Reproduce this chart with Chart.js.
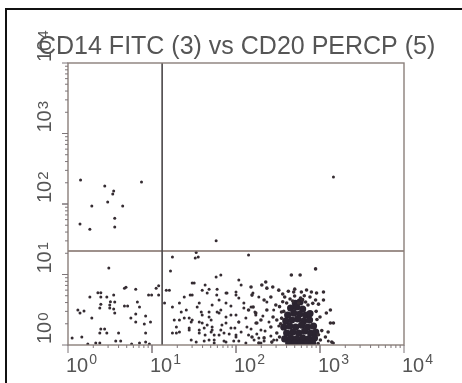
<!DOCTYPE html>
<html>
<head>
<meta charset="utf-8">
<script src="https://cdn.jsdelivr.net/npm/chart.js@4.4.1/dist/chart.umd.min.js"></script>
<style>
html, body { margin: 0; padding: 0; background: #fff; }
#wrap { position: relative; width: 462px; height: 383px; overflow: hidden; }
#box { position: absolute; left: 5px; top: 8px; width: 500px; height: 420px; border-top: 2px solid #111; border-left: 2px solid #111; }
canvas { position: absolute; left: 0; top: 0; }
</style>
</head>
<body>
<div id="wrap"><div id="box"></div><canvas id="plot" width="462" height="383"></canvas></div>
<script>
const chartTitle = "CD14 FITC (3) vs CD20 PERCP (5)"
const decadeValues = [1, 10, 100, 1000, 10000]
const decadeExponents = ["0", "1", "2", "3", "4"]

// quadrant gates
const gateX = 13.2
const gateY = 21.5

// [FITC, PERCP] events
const upperDots = [[1.41,219],[2.74,180],[3.5,153],[3.41,139],[7.5,205],[1.92,94],[2.97,107],[4.48,94],
    [3.6,63],[1.39,52],[1.82,44],[3.6,47],[58,30],[1445,241]]

const lowerLeft = [[4.9,6.6],[4.7,6.4],[6.4,6.2],[12,6.9],[1.82,4.8],[2.46,5.5],[2.46,4.8],[2.9,4.8],[3.5,5.1],
    [3.2,4.1],[2.46,3.8],[2.39,3.35],[1.31,3.14],[1.39,2.85],[1.55,3.04],[1.92,2.42],[3.14,3.35],[3.5,3.25],
    [3.6,2.85],[4.7,3.57],[5.13,3.57],[6.7,4.07],[7.1,3.46],[9.1,5.1],[12,5.1],[5.6,2.42],[6.4,2.75],[6.4,2.12],
    [8.4,2.58],[8.1,1.99],[9.6,2.12],[2.46,1.68],[2.73,1.68],[2.9,1.48],[2.39,1.48],[4.0,1.48],[8.4,1.48],
    [1.12,1.26],[1.46,1.3],[3.7,1.14],[4.24,1.14],[2.39,1.07],[8.4,1.1],[3.06,12.4],[1.72,1.03],[2.14,1.07],
    [5.72,1.03],[9.3,1.03],[7.1,1.07],[2.27,5.5],[3.14,3.7],[3.6,4.07],[9.9,5.1],[11.2,6.4]]

const lowerRight = [[17.5,17.7],[32.7,17.1],[35.5,17.7],[33.6,20.5],[141,18.9],[16.6,11.2],[58,9.2],[66,9.85],
    [31.8,7.6],[108,8.36],[16.1,6.0],[24.2,4.8],[30.1,5.1],[39.6,6.0],[47.8,6.2],[59.6,6.2],[78.2,5.46],[100,5.64],
    [159,5.46],[187,4.8],[14.1,3.94],[17.5,3.46],[21.2,3.94],[25.6,3.14],[34.5,3.46],[38.6,2.94],[52,3.7],
    [62.9,4.35],[76,3.94],[108,4.64],[124,3.94],[151,3.46],[18.4,2.26],[24.2,2.42],[30.1,2.26],[39.6,2.66],
    [47.8,2.5],[59.6,2.94],[76,2.5],[100,2.66],[131,2.42],[172,2.66],[19.5,1.8],[21.2,1.53],[27.7,1.74],
    [36.5,1.63],[45.4,1.92],[52,1.63],[68,1.92],[87,1.74],[108,2.12],[135,1.8],[172,2.05],[198,1.63],
    [17.5,1.48],[42.9,1.39],[62.9,1.39],[100,1.3],[141,1.39],[187,1.26],[47.8,1.18],[76,1.1],[131,1.07],
    [33.6,1.1],[41.8,1.14],[55,1.18],[72,1.14],[94,1.14],[164,1.18],[216,1.14],[281,1.18],[1255,1.14],
    [1445,1.07],[30.1,7.6],[42.9,7.1],[115,7.1],[14.8,6.0],[28.5,5.1],[45.4,5.46],[59,5.1],[76,5.46],
    [100,5.1],[36.5,3.94],[47.8,2.94],[62.9,2.85],[87,2.66],[21.2,2.26],[29.3,2.12],[39.6,2.05],[52,1.8],
    [76,2.05],[108,2.12],[19.5,1.48],[27.7,1.63],[36.5,1.48],[55,1.39],[72,1.48],[100,1.39],
    [41.8,1.74],[50.6,1.53],[66,1.63],[83,1.43],[97,1.74],[115,1.53],[151,1.68],[177,1.43],[222,1.58],
    [260,1.34],[306,1.18],[247,2.12],[209,2.58],[323,1.86],[348,2.42],[281,3.14],[233,4.07],[168,2.94],
    [124,3.35],[87,3.57],[66,3.14],[50.6,2.26],[36.5,2.12],[27.7,2.42],[22.3,2.94],[29.3,1.18],[55,1.07],
    [108,1.14],[198,1.07]]

const clusterHalo = [[151,6.65],[203,7.1],[155,5.1],[216,4.35],[260,4.8],[160,3.46],[233,3.14],[276,2.5],
    [177,2.05],[260,1.8],[306,1.48],[216,1.26],[1100,4.35],[1190,2.84],[1330,2.05],[1160,1.3],[1380,1.1],
    [910,5.46],[692,6.03],[486,5.64],[380,4.8],[456,9.85],[580,9.85],[886,12],[274,6.65],[226,7.83],
    [1100,5.64],[790,5.64],[600,5.64],[1330,3.14],[1445,2.05],[1250,1.53],[1010,1.18],[886,4.35],
    [141,3.14],[172,2.84],[198,2.26],[155,1.3],[187,1.07],[267,1.1],[306,2.26],[298,3.7],[348,2.94],
    [233,6.4],[323,6.0],[330,3.5],[340,2.0],[330,1.3],[960,3.8],[1000,2.5],[1050,1.6],[950,1.05],
    [900,3.0],[920,2.3],[960,1.4],[360,5.3],[650,5.0],[760,4.8],[820,3.9],[500,6.2],[420,5.8],
    [499,4.95],[587,4.64],[401,3.94],[473,4.2],[557,3.94],[674,4.07],[440,4.5],[620,4.4],[360,4.1],
    [720,3.7],[370,3.0],[350,2.4]]

const clusterCore = [
    [510,3.9],[580,4.1],
    [447,3.35],[527,3.46],[621,3.24],
    [412,2.66],[486,2.84],[572,2.75],[674,2.66],[760,2.8],
    [391,2.19],[460,2.26],[542,2.34],[638,2.19],[751,2.26],
    [370,1.8],[435,1.86],[513,1.8],[604,1.92],[711,1.8],[837,1.86],
    [401,1.48],[473,1.53],[557,1.48],[656,1.58],[772,1.48],[890,1.53],
    [380,1.22],[447,1.26],[527,1.22],[621,1.26],[731,1.22],[860,1.26],
    [424,1.07],[499,1.07],[587,1.07],[692,1.07],[815,1.07]]

const toPoints = arr => arr.map(p => ({ x: p[0], y: p[1] }))

const dotColor = "#352c32"

const dots = (label, arr, r, color) => ({
    type: "scatter",
    label: label,
    data: toPoints(arr),
    pointRadius: r,
    pointBorderWidth: 0,
    backgroundColor: color
})

const gate = (label, pts, color) => ({
    type: "line",
    label: label,
    data: pts,
    showLine: true,
    pointRadius: 0,
    borderColor: color,
    borderWidth: 1.6,
    fill: false
})

// frame, ticks, labels and title drawn against the chart scales
const decor = {
    id: "decor",
    afterDraw(chart) {
        const ctx = chart.ctx
        const xs = chart.scales.x
        const ys = chart.scales.y
        const a = chart.chartArea
        ctx.save()

        ctx.strokeStyle = "#8a7f7a"
        ctx.lineWidth = 1.4
        ctx.strokeRect(a.left, a.top, a.right - a.left, a.bottom - a.top)

        // log ticks
        ctx.strokeStyle = "#7d7578"
        ctx.lineWidth = 1
        for (let d = 0; d < 4; d++) {
            for (let k = 1; k <= 10; k++) {
                const v = k * Math.pow(10, d)
                const major = k === 1 || k === 10
                const px = xs.getPixelForValue(v)
                const py = ys.getPixelForValue(v)
                ctx.beginPath()
                ctx.moveTo(px, a.bottom)
                ctx.lineTo(px, a.bottom + (major ? 8 : 3))
                ctx.moveTo(a.left, py)
                ctx.lineTo(a.left - (major ? 6 : 3), py)
                ctx.stroke()
            }
        }

        ctx.fillStyle = "#555"
        ctx.textAlign = "left"
        ctx.textBaseline = "alphabetic"

        decadeValues.forEach((v, i) => {
            const px = xs.getPixelForValue(v) - 2
            ctx.font = "20px 'Liberation Sans', Arial, sans-serif"
            ctx.fillText("10", px, 372)
            const w = ctx.measureText("10").width
            ctx.font = "14px 'Liberation Sans', Arial, sans-serif"
            ctx.fillText(decadeExponents[i], px + w + 1, 364)
        })

        decadeValues.forEach((v, i) => {
            const py = ys.getPixelForValue(v) - 1
            ctx.save()
            ctx.translate(51, py)
            ctx.rotate(-Math.PI / 2)
            ctx.font = "20px 'Liberation Sans', Arial, sans-serif"
            ctx.fillText("10", 0, 0)
            const w = ctx.measureText("10").width
            ctx.font = "15px 'Liberation Sans', Arial, sans-serif"
            ctx.fillText(decadeExponents[i], w + 1, -3)
            ctx.restore()
        })

        ctx.font = "25px 'Liberation Sans', Arial, sans-serif"
        ctx.fillStyle = "#555"
        ctx.fillText(chartTitle, 38, 54)
        ctx.restore()
    }
}

new Chart(
    document.getElementById("plot").getContext("2d"),
    {
        type: "scatter",
        data: {
            datasets: [
                gate("gate x", [{ x: gateX, y: 1 }, { x: gateX, y: 10000 }], "#4a4648"),
                gate("gate y", [{ x: 1, y: gateY }, { x: 10000, y: gateY }], "#7e6c66"),
                dots("upper", upperDots, 1.5, dotColor),
                dots("lower left", lowerLeft, 1.5, dotColor),
                dots("lower right", lowerRight, 1.5, dotColor),
                dots("cluster halo", clusterHalo, 1.8, dotColor),
                dots("cluster core", clusterCore, 3.6, "#2b2430")
            ]
        },
        options: {
            responsive: false,
            animation: false,
            layout: { padding: { left: 68, top: 63, right: 58, bottom: 38 } },
            scales: {
                x: { type: "logarithmic", min: 1, max: 10000, display: false },
                y: { type: "logarithmic", min: 1, max: 10000, display: false }
            },
            plugins: {
                legend: { display: false },
                tooltip: { enabled: false }
            }
        },
        plugins: [decor]
    }
)
</script>
</body>
</html>
